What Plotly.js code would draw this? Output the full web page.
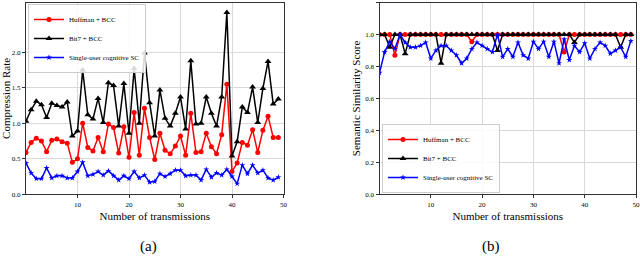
<!DOCTYPE html>
<html><head><meta charset="utf-8">
<script src="https://cdn.plot.ly/plotly-3.0.1.min.js"></script>
<style>html,body{margin:0;padding:0;background:#fff}#c{width:640px;height:262px}</style>
</head><body><div id="c"></div>
<script>
const seriesNames = ["Huffman + BCC", "Bit7 + BCC", "Single-user cognitive SC"];
const transmissions = Array.from({length: 50}, (_, i) => i);
const xTicks = [10, 20, 30, 40, 50];
const yTicksA = [0.0, 0.5, 1.0, 1.5, 2.0];
const yTicksB = [0.0, 0.2, 0.4, 0.6, 0.8, 1.0, 1.2];

// (a) Compression rate
const huffmanRate = [0.59,0.73,0.79,0.75,0.60,0.76,0.78,0.74,0.72,0.45,0.50,1.00,0.66,0.61,0.80,0.60,0.99,0.94,0.58,0.95,
  0.52,1.15,0.55,1.21,0.80,0.49,0.86,0.62,0.57,0.68,0.82,0.55,1.14,0.59,0.60,0.86,0.67,0.57,0.84,1.55,
  0.32,0.44,0.73,0.69,0.91,0.59,0.90,1.10,0.80,0.80];
const bit7Rate = [1.03,1.19,1.31,1.26,1.08,1.28,1.25,1.23,1.30,0.82,0.89,1.75,1.12,1.06,1.35,1.01,1.57,1.53,0.96,1.56,
  0.86,1.77,1.00,1.99,1.29,0.82,1.47,1.07,0.96,1.14,1.37,0.92,1.88,0.99,1.00,1.37,1.14,0.96,1.37,2.56,
  0.54,0.74,1.23,1.15,1.51,1.01,1.49,1.87,1.27,1.34];
const scRate = [0.44,0.30,0.22,0.22,0.37,0.23,0.26,0.26,0.23,0.23,0.32,0.45,0.26,0.28,0.32,0.27,0.33,0.26,0.20,0.26,
  0.22,0.32,0.23,0.27,0.17,0.18,0.29,0.25,0.29,0.34,0.34,0.26,0.27,0.27,0.20,0.35,0.24,0.30,0.27,0.35,
  0.25,0.15,0.41,0.29,0.41,0.30,0.34,0.23,0.20,0.24];

// (b) Semantic similarity score
const huffmanScore = [1,1,1,0.87,1,1,1,1,1,1,1,1,1,1,1,1,1,1,0.955,1,
  1,1,1,1,1,1,1,1,1,1,1,1,1,1,1,1,0.89,1,1,1,
  1,1,1,1,1,1,1,1,1,1];
const bit7Score = [1,1,0.92,1,1,0.88,1,1,1,1,1,1,0.82,1,1,1,1,1,1,1,
  1,1,1,0.90,1,1,1,1,1,1,1,1,1,1,1,1,1,1,0.95,1,
  1,1,1,1,1,1,1,0.92,1,1];
const scScore = [0.76,0.89,0.955,0.91,1.00,0.95,0.92,0.92,0.93,0.95,0.85,0.90,0.93,0.93,0.90,0.87,0.82,0.85,0.91,0.95,
  0.93,0.91,0.89,1.00,0.86,0.91,0.86,0.95,0.87,0.85,0.955,0.91,0.955,0.86,0.955,0.82,0.97,0.84,0.93,0.89,
  0.945,0.85,0.91,0.95,0.93,0.88,0.90,0.92,0.86,0.96];

const colors = ["#ff0000", "#000000", "#0000ff"];
const symbols = ["circle", "triangle-up", "star"];
const msizes = [5, 6, 4.5];

function mk(y, k, xa, ya, lg) {
  return {
    x: transmissions, y: y, type: "scatter", mode: "lines+markers",
    name: seriesNames[k], xaxis: xa, yaxis: ya, legend: lg,
    line: {color: colors[k], width: 1.5},
    marker: {color: colors[k], symbol: symbols[k], size: msizes[k], line: {width: 0}}
  };
}

const data = [
  mk(huffmanRate, 0, "x", "y", "legend"),
  mk(bit7Rate, 1, "x", "y", "legend"),
  mk(scRate, 2, "x", "y", "legend"),
  mk(huffmanScore, 0, "x2", "y2", "legend2"),
  mk(bit7Score, 1, "x2", "y2", "legend2"),
  mk(scScore, 2, "x2", "y2", "legend2")
];

const fontFam = "'Liberation Serif', 'Times New Roman', serif";
const axBase = {
  showline: true, mirror: true, linecolor: "#333", linewidth: 1,
  showgrid: true, gridcolor: "#d9d9d9", gridwidth: 1,
  ticks: "outside", ticklen: 3, tickcolor: "#333",
  tickfont: {family: fontFam, size: 7, color: "#000"}, zeroline: false
};
const yDom = [(262 - 194.3) / 262, (262 - 2.5) / 262];

const layout = {
  width: 640, height: 262, margin: {l: 0, r: 0, t: 0, b: 0},
  paper_bgcolor: "#fff", plot_bgcolor: "#fff",
  font: {family: fontFam, color: "#000"},
  xaxis: Object.assign({}, axBase, {domain: [26/640, 283.5/640], range: [0, 50], tickvals: xTicks,
    title: {text: "Number of transmissions", font: {family: fontFam, size: 11}, standoff: 4}}),
  yaxis: Object.assign({}, axBase, {domain: yDom, range: [0, 2.7], tickvals: yTicksA,
    ticktext: yTicksA.map(v => v.toFixed(1)),
    title: {text: "Compression Rate", font: {family: fontFam, size: 11}, standoff: 2}}),
  xaxis2: Object.assign({}, axBase, {domain: [379.5/640, 636/640], range: [0, 50], tickvals: xTicks, anchor: "y2",
    title: {text: "Number of transmissions", font: {family: fontFam, size: 11}, standoff: 4}}),
  yaxis2: Object.assign({}, axBase, {domain: yDom, range: [0, 1.2], tickvals: yTicksB, anchor: "x2",
    ticktext: yTicksB.map(v => v.toFixed(1)),
    title: {text: "Semantic Similarity Score", font: {family: fontFam, size: 11}, standoff: 2}}),
  legend: {x: 28/640, y: (262 - 4)/262, xanchor: "left", yanchor: "top",
    bgcolor: "rgba(255,255,255,0.85)", bordercolor: "#ccc", borderwidth: 1,
    font: {family: fontFam, size: 7}, tracegroupgap: 0, itemwidth: 30},
  legend2: {x: 382/640, y: (262 - 193)/262, xanchor: "left", yanchor: "bottom",
    bgcolor: "rgba(255,255,255,0.85)", bordercolor: "#ccc", borderwidth: 1,
    font: {family: fontFam, size: 7}, tracegroupgap: 0, itemwidth: 30},
  annotations: [
    {text: "(a)", xref: "paper", yref: "paper", x: 148/640, y: (262 - 246)/262, showarrow: false,
      xanchor: "center", yanchor: "middle", font: {family: fontFam, size: 15}},
    {text: "(b)", xref: "paper", yref: "paper", x: 491/640, y: (262 - 246)/262, showarrow: false,
      xanchor: "center", yanchor: "middle", font: {family: fontFam, size: 15}}
  ]
};

Plotly.newPlot("c", data, layout, {displayModeBar: false, staticPlot: true});
</script></body></html>
